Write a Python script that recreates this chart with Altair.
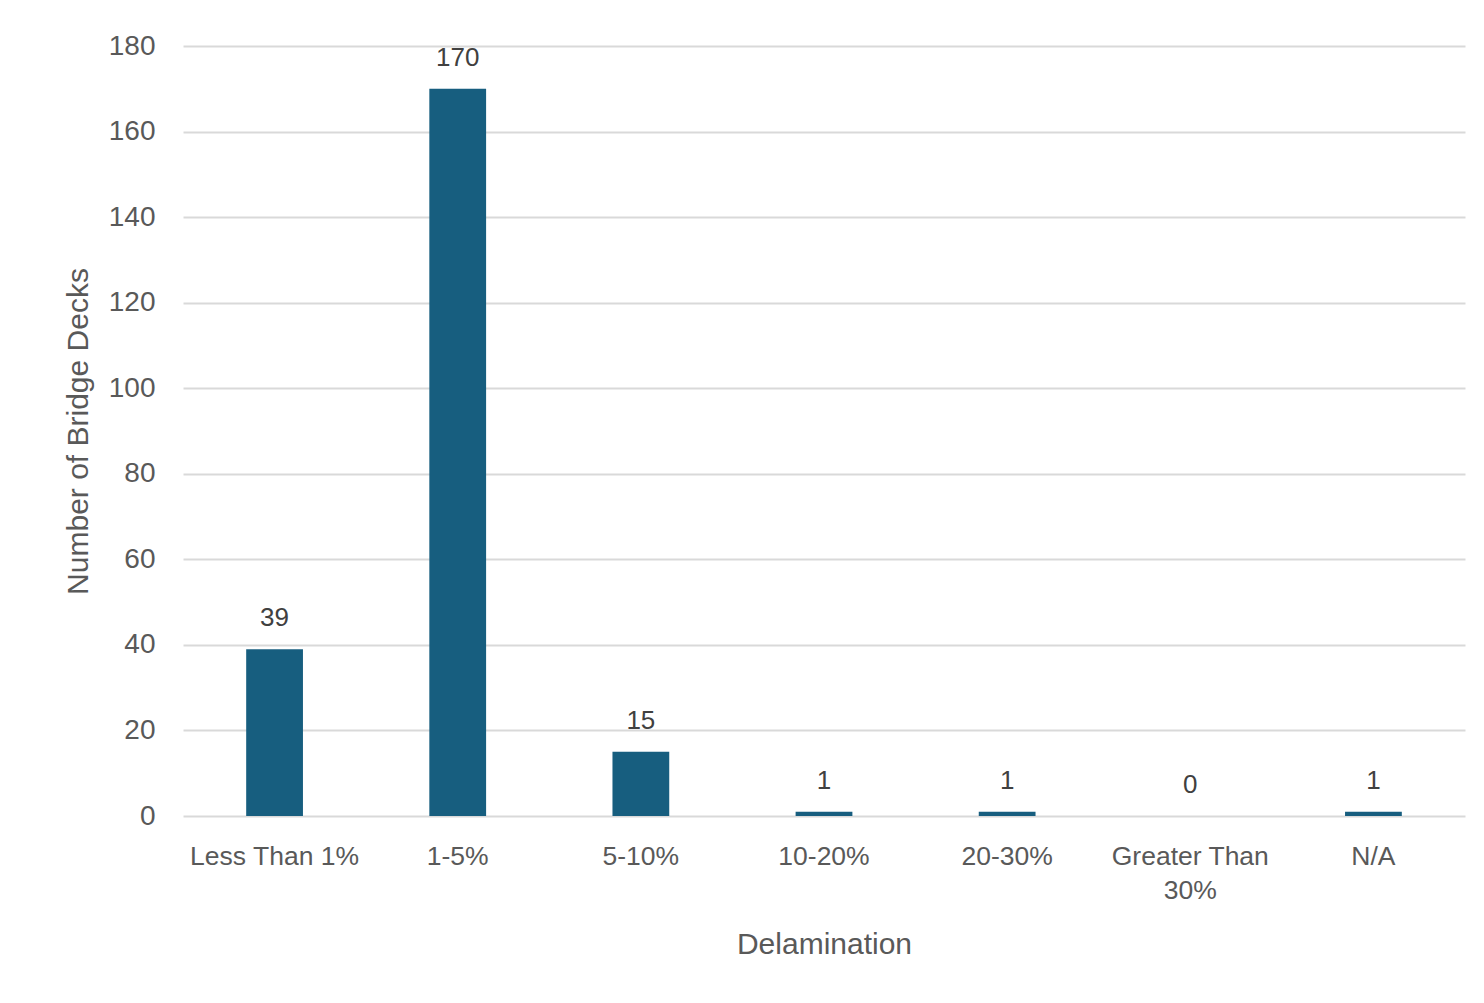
import altair as alt
import pandas as pd

categories = ["Less Than 1%", "1-5%", "5-10%", "10-20%", "20-30%", "Greater Than 30%", "N/A"]
counts = [39, 170, 15, 1, 1, 0, 1]
y_ticks = [0, 20, 40, 60, 80, 100, 120, 140, 160, 180]

df = pd.DataFrame({"cat": categories, "count": counts})

FONT = "Liberation Sans, Arial"
TXT = "#595959"

x_enc = alt.X(
    "cat:N",
    sort=categories,
    scale=alt.Scale(paddingInner=0.69, paddingOuter=0.345),
    axis=alt.Axis(
        title="Delamination",
        labelAngle=0,
        labelFontSize=26.5,
        labelFont=FONT,
        labelColor=TXT,
        labelPadding=27,
        labelLimit=400,
        labelLineHeight=34,
        labelExpr="datum.label == 'Greater Than 30%' ? ['Greater Than', '30%'] : datum.label",
        ticks=False,
        domain=False,
        grid=False,
        titleFontSize=30,
        titleFont=FONT,
        titleColor=TXT,
        titleFontWeight="normal",
        titleY=128,
        titleBaseline="middle",
    ),
)

y_enc = alt.Y(
    "count:Q",
    scale=alt.Scale(domain=[0, 180], nice=False),
    axis=alt.Axis(
        title="Number of Bridge Decks",
        values=y_ticks,
        labelFontSize=28,
        labelFont=FONT,
        labelColor=TXT,
        labelPadding=28,
        ticks=False,
        domain=False,
        grid=True,
        gridColor="#d9d9d9",
        gridWidth=2,
        titleFontSize=30,
        titleFont=FONT,
        titleColor=TXT,
        titleFontWeight="normal",
        titleX=-105,
        titleY=385,
        titleAngle=-90,
        titleAlign="center",
        titleBaseline="middle",
    ),
)

bars = alt.Chart(df).mark_bar(color="#175e7f").encode(x=x_enc, y=y_enc)

labels = alt.Chart(df).mark_text(
    font=FONT, fontSize=26, color="#404040", baseline="alphabetic", dy=-23
).encode(
    x=alt.X("cat:N", sort=categories),
    y=alt.Y("count:Q"),
    text=alt.Text("count:Q"),
)

chart = (
    alt.layer(bars, labels)
    .properties(
        width=1282,
        height=770,
        autosize=alt.AutoSizeParams(type="none"),
        padding={"left": 183, "top": 46, "right": 19, "bottom": 187},
        background="white",
    )
    .configure_view(stroke=None)
)

chart.save("out.html", embed_options={"renderer": "svg", "actions": False})
